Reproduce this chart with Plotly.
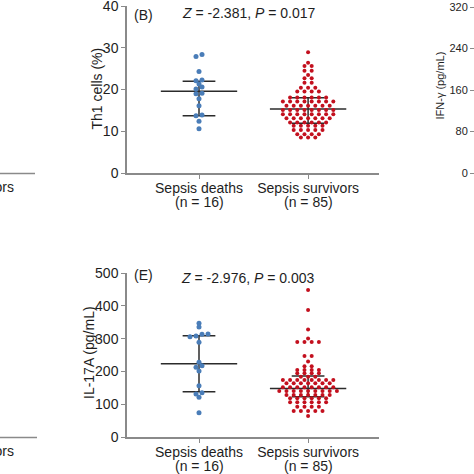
import plotly.graph_objects as go

# ---------------- data ----------------
categories = ["Sepsis deaths", "Sepsis survivors"]
group_n = ["(n = 16)", "(n = 85)"]
cat_pos = [0, 1]

th1_deaths = [27.9, 28.4, 24.3, 22.1, 22.3, 21.3, 20.6, 20.1, 19.0, 19.1,
              17.8, 16.1, 13.7, 13.9, 12.4, 10.6]
th1_survivors = ([28.9, 26.4] + [25.6] * 2 + [24.5] * 2 + [23.5] + [22.7] * 2 +
                 [21.6] * 2 + [20.4] * 3 + [19.5] * 4 + [18.1] * 6 + [17.1] * 8 +
                 [16.1] * 7 + [15.1] * 8 + [14.1] * 8 + [13.1] * 7 + [12.1] * 6 +
                 [11.3] * 5 + [10.3] * 5 + [9.3] * 4 + [8.5] * 3)
th1_median = [19.6, 15.3]
th1_q1 = [13.7, 11.9]
th1_q3 = [22.0, 18.0]

il17a_deaths = [347, 335, 313, 306, 308, 314, 289, 228, 213, 217, 201,
                156, 131, 135, 121, 74]
il17a_survivors = ([448, 387, 328, 300] + [290] * 4 + [247] * 2 + [230] +
                   [216] * 2 + [204] * 4 + [194] * 4 + [184] * 3 + [174] * 8 +
                   [164] * 7 + [152] * 8 + [140] * 9 + [128] * 7 + [118] * 6 +
                   [106] * 6 + [92] * 4 + [79] * 5 + [64])
il17a_median = [223, 148]
il17a_q1 = [138, 123]
il17a_q3 = [309, 186]

th1_ticks = [0, 10, 20, 30, 40]
il17a_ticks = [0, 100, 200, 300, 400, 500]
ifn_ticks = [0, 80, 160, 240, 320]

th1_stat = "<i>Z</i> = -2.381, <i>P</i> = 0.017"
il17a_stat = "<i>Z</i> = -2.976, <i>P</i> = 0.003"

# ---------------- style ----------------
W = H = 474
FONT = "Liberation Sans, Arial, sans-serif"
TXT = "#1e1e1e"
AXIS_COL = "#8a8a8a"
BAR_COL = "#2b2b2b"
BLUE = "#4a7db8"
RED = "#c3101e"
PX_PER_UNIT = 109.0
DX_DEATH = 6.0 / PX_PER_UNIT
DX_SURV = 7.2 / PX_PER_UNIT


def px(x):
    return x / W


def py(y):
    return 1 - y / H


def swarm(values, center, row_h, dx):
    vals = sorted(values)
    rows, cur = [], [vals[0]]
    for v in vals[1:]:
        if v - cur[0] > row_h:
            rows.append(cur)
            cur = [v]
        else:
            cur.append(v)
    rows.append(cur)
    xs, ys = [], []
    for r in rows:
        n = len(r)
        for i, v in enumerate(r):
            xs.append(center + (i - (n - 1) / 2) * dx)
            ys.append(v)
    return xs, ys


def bars(med, q1, q3, half_med=0.35, half_cap=0.15):
    xs, ys = [], []
    for c, m, a, b in zip(cat_pos, med, q1, q3):
        xs += [c - half_med, c + half_med, None, c - half_cap, c + half_cap, None,
               c - half_cap, c + half_cap, None, c, c, None]
        ys += [m, m, None, b, b, None, a, a, None, a, b, None]
    return xs, ys


fig = go.Figure()

panels = [
    ("x", "y", th1_deaths, th1_survivors, th1_median, th1_q1, th1_q3, 0.7),
    ("x2", "y2", il17a_deaths, il17a_survivors, il17a_median, il17a_q1, il17a_q3, 9),
]
for xa, ya, dvals, svals, med, q1, q3, rh in panels:
    bx, by = bars(med, q1, q3)
    fig.add_trace(go.Scatter(x=bx, y=by, mode="lines", xaxis=xa, yaxis=ya,
                             line=dict(color=BAR_COL, width=1.5), hoverinfo="skip"))
    dx_, dy_ = swarm(dvals, cat_pos[0], rh, DX_DEATH)
    fig.add_trace(go.Scatter(x=dx_, y=dy_, mode="markers", xaxis=xa, yaxis=ya,
                             marker=dict(color=BLUE, size=5, line=dict(width=0))))
    sx_, sy_ = swarm(svals, cat_pos[1], rh, DX_SURV)
    fig.add_trace(go.Scatter(x=sx_, y=sy_, mode="markers", xaxis=xa, yaxis=ya,
                             marker=dict(color=RED, size=4, line=dict(width=0))))

# invisible trace so the partial IFN-gamma axis is drawn
fig.add_trace(go.Scatter(x=[None], y=[None], xaxis="x", yaxis="y3",
                         mode="markers", showlegend=False))

xdom = [px(127), px(379)]
common_x = dict(domain=xdom, range=[-0.66, 1.65], tickvals=cat_pos,
                ticktext=categories, showline=True, linecolor=AXIS_COL,
                linewidth=1.5, ticks="outside", ticklen=4, tickcolor=AXIS_COL,
                tickwidth=1.2, showgrid=False, zeroline=False, automargin=False,
                ticklabelstandoff=-3, ticklabeloverflow="allow",
                tickfont=dict(size=14, color=TXT, family=FONT))
common_y = dict(showline=True, linecolor=AXIS_COL, linewidth=1.5,
                ticks="outside", ticklen=4, tickcolor=AXIS_COL, tickwidth=1.2,
                showgrid=False, zeroline=False, automargin=False,
                ticklabeloverflow="allow",
                tickfont=dict(size=14, color=TXT, family=FONT))

fig.update_layout(
    template="none",
    width=W, height=H, margin=dict(l=0, r=0, t=0, b=0, pad=0, autoexpand=False),
    paper_bgcolor="white", plot_bgcolor="white", showlegend=False,
    font=dict(family=FONT, size=14, color=TXT),
    xaxis=dict(anchor="y", **common_x),
    xaxis2=dict(anchor="y2", **common_x),
    yaxis=dict(anchor="x", domain=[py(173), py(6)], range=[0, 40],
               tickvals=th1_ticks, **common_y),
    yaxis2=dict(anchor="x2", domain=[py(437), py(273)], range=[0, 500],
                tickvals=il17a_ticks, **common_y),
    yaxis3=dict(overlaying="y", anchor="free", position=1.0, side="left",
                range=[0, 322], tickvals=ifn_ticks, showline=False,
                ticks="outside", ticklen=4, tickcolor=AXIS_COL, tickwidth=1.2,
                showgrid=False, zeroline=False, automargin=False,
                ticklabeloverflow="allow",
                tickfont=dict(size=11, color=TXT, family=FONT)),
)

ann = [
    dict(text="(B)", x=px(143), y=py(15)),
    dict(text="(E)", x=px(143), y=py(275)),
    dict(text=th1_stat, x=px(249), y=py(13)),
    dict(text=il17a_stat, x=px(248), y=py(278)),
    dict(text="Th1 cells (%)", x=px(96.5), y=py(89), textangle=-90),
    dict(text="IL-17A (pg/mL)", x=px(89), y=py(353), textangle=-90),
    dict(text="IFN-γ (pg/mL)", x=px(439.5), y=py(86), textangle=-90, size=11),
    dict(text="Sepsis survivors", x=px(16), y=py(187), xanchor="right"),
    dict(text="Sepsis survivors", x=px(16), y=py(451), xanchor="right"),
]
for a in ann:
    a.setdefault("xanchor", "center")
    size = a.pop("size", 14)
    fig.add_annotation(xref="paper", yref="paper", showarrow=False,
                       yanchor="middle",
                       font=dict(size=size, color=TXT, family=FONT), **a)

# second line of the category labels, placed through each panel's x scale
for xref, ypix in [("x", 202), ("x2", 466)]:
    for c, lab in zip(cat_pos, group_n):
        fig.add_annotation(xref=xref, yref="paper", x=c, y=py(ypix),
                           text=lab, showarrow=False, xanchor="center",
                           yanchor="middle",
                           font=dict(size=14, color=TXT, family=FONT))

# fragments of the neighbouring panels' x-axis lines
for yline, xend in [(173.5, 35), (437.5, 37)]:
    fig.add_shape(type="line", xref="paper", yref="paper",
                  x0=0, x1=px(xend), y0=py(yline), y1=py(yline),
                  line=dict(color=AXIS_COL, width=1.5))

fig.write_html(
    "out.html",
    config={"displayModeBar": False},
    post_script="document.body.style.margin='0';document.body.style.overflow='hidden';",
)
